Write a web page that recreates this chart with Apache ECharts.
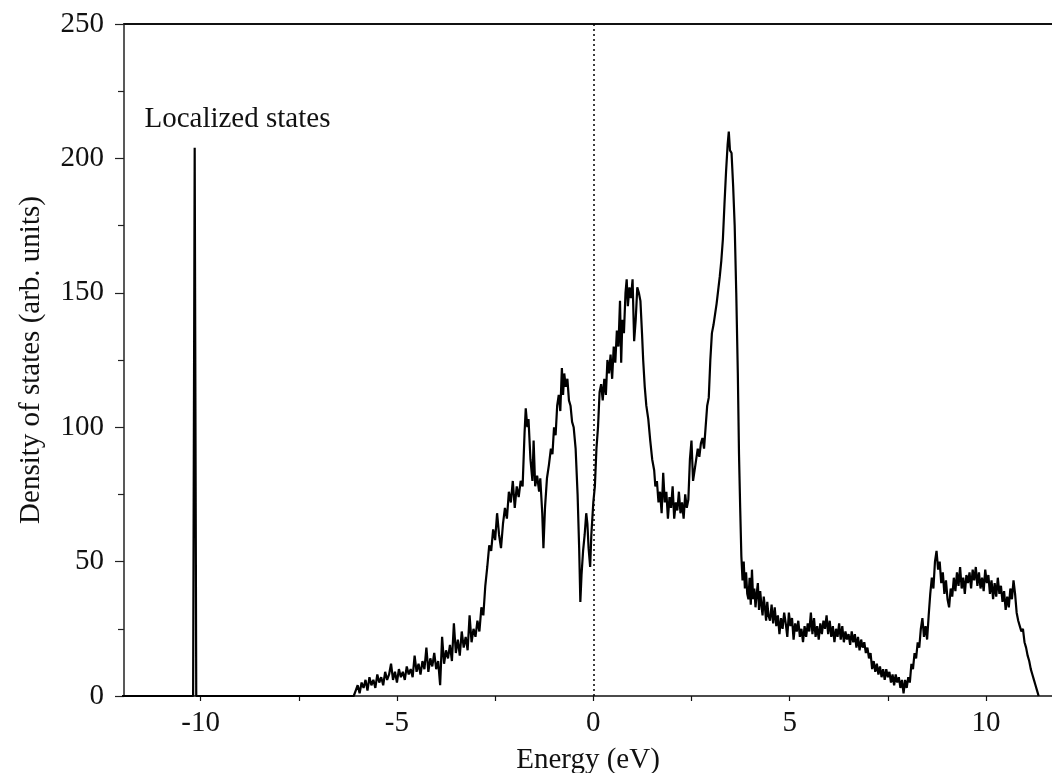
<!DOCTYPE html>
<html>
<head>
<meta charset="utf-8">
<script src="https://cdn.jsdelivr.net/npm/echarts@6/dist/echarts.min.js"></script>
<style>
html,body{margin:0;padding:0;background:#fff;}
#chart{width:1052px;height:773px;}
</style>
</head>
<body>
<div id="chart"></div>
<script>
// Energy (eV) and density of states (arb. units)
var energy = [
-12, -10.19, -10.15, -10.11, -6.10,
-6.05,-6.00,-5.95,-5.90,-5.85,-5.80,-5.75,-5.70,-5.65,-5.60,-5.55,-5.50,-5.45,-5.40,-5.35,-5.30,-5.25,-5.20,-5.15,-5.10,-5.05,-5.00,
-4.95,-4.90,-4.85,-4.80,-4.75,-4.70,-4.65,-4.60,-4.55,-4.50,-4.45,-4.40,-4.35,-4.30,-4.25,-4.20,-4.15,-4.10,-4.05,-4.00,
-3.95,-3.90,-3.85,-3.80,-3.75,-3.70,-3.65,-3.60,-3.55,-3.50,-3.45,-3.40,-3.35,-3.30,-3.25,-3.20,-3.15,-3.10,-3.05,-3.00,
-2.95,-2.90,-2.85,-2.80,-2.75,-2.70,-2.65,-2.60,-2.55,-2.50,-2.45,-2.40,-2.35,-2.30,-2.25,-2.20,-2.15,-2.10,-2.05,-2.00,
-1.95,-1.90,-1.85,-1.80,-1.75,-1.72,-1.68,-1.65,-1.60,-1.55,-1.52,-1.48,-1.43,-1.38,-1.35,-1.30,-1.27,-1.23,-1.18,-1.13,-1.08,-1.04,-1.00,
-0.96,-0.92,-0.88,-0.84,-0.80,-0.77,-0.74,-0.70,-0.66,-0.62,-0.58,-0.54,-0.50,-0.45,-0.40,-0.36,-0.33,-0.30,-0.26,-0.22,-0.18,-0.15,-0.12,-0.08,-0.05,
0.00,0.04,0.08,0.12,0.16,0.20,0.24,0.28,0.32,0.36,0.40,0.44,0.48,0.52,0.56,0.60,0.64,0.68,0.71,0.74,0.78,0.82,0.85,0.88,0.92,0.96,
1.00,1.04,1.08,1.12,1.16,1.20,1.24,1.27,1.31,1.35,1.40,1.45,1.50,1.55,1.58,1.62,1.66,1.70,1.74,1.78,1.82,1.86,1.90,1.94,1.98,
2.02,2.06,2.10,2.14,2.18,2.22,2.26,2.30,2.34,2.38,2.42,2.46,2.50,2.54,2.58,2.62,2.66,2.70,2.74,2.78,2.82,2.86,2.90,2.94,2.98,
3.02,3.06,3.10,3.14,3.18,3.22,3.26,3.30,3.34,3.38,3.42,3.45,3.48,3.52,3.56,3.60,3.64,3.68,3.71,3.74,3.77,3.80,3.83,3.86,3.89,3.92,3.95,3.98,
4.01,4.04,4.07,4.10,4.13,4.16,4.19,4.22,4.25,4.28,4.31,4.34,4.37,4.40,4.43,4.46,4.50,4.54,4.58,4.62,4.66,4.70,4.74,4.78,4.82,4.86,4.90,4.94,4.98,
5.02,5.06,5.10,5.14,5.18,5.22,5.26,5.30,5.34,5.38,5.42,5.46,5.50,5.54,5.58,5.62,5.66,5.70,5.74,5.78,5.82,5.86,5.90,5.94,5.98,
6.02,6.06,6.10,6.14,6.18,6.22,6.26,6.30,6.34,6.38,6.42,6.46,6.50,6.54,6.58,6.62,6.66,6.70,6.74,6.78,6.82,6.86,6.90,6.94,6.98,
7.02,7.06,7.10,7.14,7.18,7.22,7.26,7.30,7.34,7.38,7.42,7.46,7.50,7.54,7.58,7.62,7.66,7.70,7.74,7.78,7.82,7.86,7.90,7.94,7.98,
8.02,8.06,8.10,8.14,8.18,8.22,8.26,8.30,8.34,8.38,8.42,8.46,8.50,8.54,8.58,8.62,8.66,8.70,8.74,8.78,8.82,8.86,8.90,8.94,8.98,
9.02,9.06,9.10,9.14,9.18,9.22,9.26,9.30,9.34,9.38,9.42,9.46,9.50,9.54,9.58,9.62,9.66,9.70,9.74,9.78,9.82,9.86,9.90,9.94,9.98,
10.02,10.06,10.10,10.14,10.18,10.22,10.26,10.30,10.34,10.38,10.42,10.46,10.50,10.54,10.58,10.62,10.66,10.70,10.74,10.78,10.82,10.86,10.90,10.94,10.98,
11.02,11.06,11.10,11.14,11.18,11.22,11.26,11.30,11.34
];
var dos = [
0, 0, 204, 0, 0,
2,4,1,5,3,6,2,7,4,6,3,8,5,7,4,9,6,8,12,6,9,5,
10,7,9,6,11,8,10,7,15,9,12,8,13,10,18,9,14,11,16,10,
13,4,22,12,17,14,19,13,27,16,21,15,24,18,22,17,30,20,25,22,
28,24,33,30,41,48,56,54,62,58,68,60,55,64,70,66,76,72,80,70,
78,74,80,78,98,107,100,103,88,80,95,78,82,76,81,68,55,70,81,86,92,90,100,
97,108,112,106,122,112,120,115,118,110,108,102,100,92,75,55,35,45,54,60,68,64,55,48,60,
72,78,92,100,113,116,110,118,112,125,120,127,118,130,124,136,130,147,124,140,135,150,155,145,152,148,
155,132,140,152,150,147,135,125,115,108,103,95,88,84,78,80,72,76,68,83,72,76,66,74,70,
78,66,72,69,76,68,72,66,75,70,73,88,95,80,84,88,92,89,94,96,92,100,108,111,125,
135,138,142,146,151,156,162,170,183,195,205,210,203,202,190,175,150,120,90,70,52,43,50,40,46,38,36,44,
34,47,36,40,33,38,42,32,39,34,30,37,33,28,35,30,28,34,27,33,26,30,23,29,25,31,27,22,31,
26,29,21,27,24,28,22,25,20,26,22,27,24,31,23,29,22,26,21,27,23,28,25,30,23,
28,22,26,20,25,22,27,21,26,20,24,21,23,19,24,20,23,18,22,17,21,18,20,16,18,
14,16,10,13,9,12,8,11,7,10,6,10,7,9,5,8,4,8,5,7,3,6,1,6,3,
7,5,12,10,16,14,20,18,25,29,22,26,21,30,38,44,40,50,54,47,50,42,46,38,43,
36,33,40,37,44,39,46,41,48,40,44,38,45,42,46,40,47,43,48,41,46,40,44,39,47,
42,45,38,43,36,42,37,44,38,41,35,39,32,37,33,40,36,43,38,31,28,26,24,25,20,
18,15,13,10,8,6,4,2,0
];
var xTicks = [-10, -7.5, -5, -2.5, 0, 2.5, 5, 7.5, 10];
var xLabels = [-10, -5, 0, 5, 10];
var yTicks = [0, 50, 100, 150, 200, 250];
var annotation = {text: 'Localized states', x: -11.43, y: 214.5};

var pts = energy.map(function (e, i) { return [e, dos[i]]; });
var FONT = '"Liberation Serif", "Times New Roman", serif';
var chart = echarts.init(document.getElementById('chart'), null, {renderer: 'canvas'});
var option = {
  animation: false,
  backgroundColor: '#fff',
  grid: {left: 124, top: 24, right: 0, bottom: 77, containLabel: false, outerBoundsMode: 'none'},
  xAxis: [{
    type: 'value', min: -11.95, max: 11.68,
    axisLine: {show: true, onZero: false, lineStyle: {color: '#111', width: 1.5}},
    axisTick: {show: true, inside: false, length: 5, customValues: xTicks, lineStyle: {color: '#111', width: 1.2}},
    axisLabel: {show: true, customValues: xLabels, margin: 13, color: '#111', fontFamily: FONT, fontSize: 29},
    splitLine: {show: false},
    name: 'Energy (eV)', nameLocation: 'middle', nameGap: 50,
    nameTextStyle: {color: '#111', fontFamily: FONT, fontSize: 29}
  }, {
    type: 'value', position: 'top', min: -11.95, max: 11.68,
    axisLine: {show: true, onZero: false, lineStyle: {color: '#111', width: 2}},
    axisTick: {show: false}, axisLabel: {show: false}, splitLine: {show: false}
  }],
  yAxis: {
    type: 'value', min: yTicks[0], max: yTicks[yTicks.length - 1], interval: 50,
    axisLine: {show: true, onZero: false, lineStyle: {color: '#222', width: 1.5}},
    axisTick: {show: true, inside: false, length: 9, lineStyle: {color: '#222', width: 1.2}},
    minorTick: {show: true, splitNumber: 2, length: 6, lineStyle: {color: '#222', width: 1.2}},
    axisLabel: {margin: 20, color: '#111', fontFamily: FONT, fontSize: 29},
    splitLine: {show: false},
    name: 'Density of states (arb. units)', nameLocation: 'middle', nameGap: 78,
    nameTextStyle: {color: '#111', fontFamily: FONT, fontSize: 29}
  },
  series: [{
    type: 'line', data: pts, showSymbol: false, symbol: 'none',
    lineStyle: {color: '#000', width: 2.2}, z: 3,
    markLine: {
      silent: true, symbol: 'none', label: {show: false},
      lineStyle: {color: '#000', type: [2, 3], width: 1.5},
      data: [[{coord: [0, 0]}, {coord: [0, 250]}]]
    }
  }]
};
chart.setOption(option);
var p = chart.convertToPixel({xAxisIndex: 0, yAxisIndex: 0}, [annotation.x, annotation.y]);
chart.setOption({
  graphic: [{
    type: 'text', x: p[0], y: p[1],
    style: {text: annotation.text, fill: '#111', font: '29px ' + FONT, textAlign: 'left', textVerticalAlign: 'middle'}
  }]
});
</script>
</body>
</html>
